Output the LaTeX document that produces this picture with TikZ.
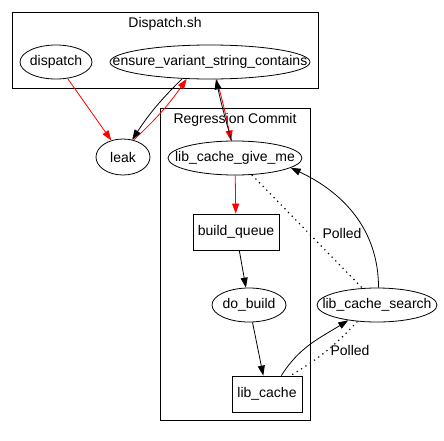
\documentclass[tikz,border=0pt]{standalone}
\usepackage{fontspec}
\setmainfont{Liberation Sans}
\usetikzlibrary{arrows.meta,shapes.geometric}
\begin{document}
\begin{tikzpicture}[x=1pt,y=-1pt,
  every node/.style={font=\fontsize{14}{16}\selectfont},
  ell/.style={draw, ellipse, inner sep=0pt, line width=0.8pt},
  box/.style={draw, rectangle, inner sep=0pt, line width=0.8pt},
  cluster/.style={draw, line width=0.8pt},
  arr/.style={-{Triangle[length=10pt,width=7pt]}, line width=0.8pt},
  redarr/.style={arr, red},
  poll/.style={line width=1.2pt, dash pattern=on 1.2pt off 4pt}
]
\fill[white] (0,0) rectangle (444,440);
\useasboundingbox (0,0) rectangle (444,440);

% clusters
\draw[cluster] (12,12) rectangle (318,88);
\node (t1) at (165,24) {Dispatch.sh};
\draw[cluster] (160,108) rectangle (310,420);
\node (t2) at (235,120) {Regression Commit};

% nodes
\node[ell, minimum width=72pt, minimum height=34pt] (dispatch) at (56,62) {\makebox[0pt]{dispatch}};
\node[ell, minimum width=200pt, minimum height=34pt] (ensure) at (210,62) {\makebox[0pt]{ensure\_variant\_string\_contains}};
\node[ell, minimum width=54pt, minimum height=36pt] (leak) at (123,157) {\makebox[0pt]{leak}};
\node[ell, minimum width=134pt, minimum height=34pt] (lcgm) at (235,158) {\makebox[0pt]{lib\_cache\_give\_me}};
\node[box, minimum width=86pt, minimum height=36pt] (bq) at (236,232) {build\_queue};
\node[ell, minimum width=74pt, minimum height=34pt] (db) at (249,305) {\makebox[0pt]{do\_build}};
\node[box, minimum width=70pt, minimum height=36pt] (lc) at (267,394) {lib\_cache};
\node[ell, minimum width=120pt, minimum height=34pt] (lcs) at (377,305) {\makebox[0pt]{lib\_cache\_search}};

\node (p1) at (342,233) {Polled};
\node (p2) at (350,350) {Polled};

% edges
\draw[redarr] (dispatch) -- (leak);
\draw[arr] (ensure.211) to[bend right=6] (leak.62);
\draw[redarr] (leak.58) to[bend right=6] (ensure.216);
\draw[redarr] (ensure.291) to[bend left=2] (lcgm.103);
\draw[arr] (lcgm.101) to[bend left=2] (ensure.289);
\draw[redarr] (lcgm) -- (bq);
\draw[arr] (bq) -- (db);
\draw[arr] (db) -- (lc);
\draw[arr] (lc.52) to[out=58,in=212] (lcs.208);
\draw[poll] (lcs.220) to[bend left=8] (lc.38);
\draw[arr] (lcs.85) to[out=90,in=335] (lcgm.350);
\draw[poll] (lcgm.315) -- (lcs.131);
\end{tikzpicture}
\end{document}
